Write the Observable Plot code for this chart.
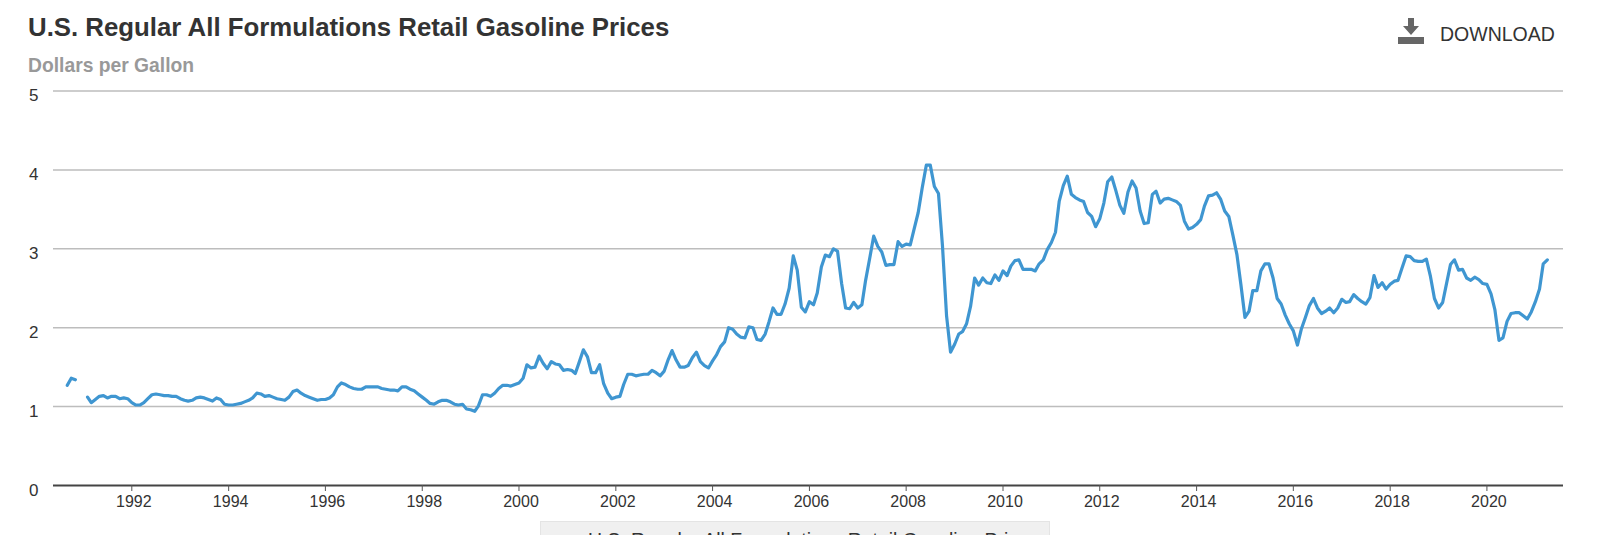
<!DOCTYPE html>
<html>
<head>
<meta charset="utf-8">
<script src="https://cdn.jsdelivr.net/npm/d3@7"></script>
<script src="https://cdn.jsdelivr.net/npm/@observablehq/plot@0.6"></script>
<style>
  html,body{margin:0;padding:0;background:#fff;width:1600px;height:535px;overflow:hidden;font-family:"Liberation Sans",Arial,sans-serif;}
  #wrap{position:relative;width:1600px;height:535px;overflow:hidden;}
  #title{position:absolute;left:28px;top:13px;font-size:25.8px;font-weight:bold;color:#333;line-height:28px;white-space:nowrap;}
  #sub{position:absolute;left:28px;top:55px;font-size:19.3px;font-weight:bold;color:#999;line-height:22px;white-space:nowrap;}
  #dl{position:absolute;left:1440px;top:23px;font-size:19.5px;color:#333;line-height:22px;white-space:nowrap;}
  #icon{position:absolute;left:1397px;top:17px;}
  #chart{position:absolute;left:0;top:80px;}
  #legend{position:absolute;left:540px;top:521px;width:510px;height:40px;background:#f0f0f0;border:1px solid #e4e4e4;box-sizing:border-box;font-size:19.4px;color:#333;padding:7px 0 0 47px;white-space:nowrap;}
</style>
</head>
<body>
<div id="wrap">
  <div id="title">U.S. Regular All Formulations Retail Gasoline Prices</div>
  <div id="sub">Dollars per Gallon</div>
  <svg id="icon" width="28" height="28" viewBox="0 0 28 28"><path d="M11 1h6v8h5l-8 9-8-9h5z M1 20h26v7H1z" fill="#666"/></svg>
  <div id="dl">DOWNLOAD</div>
  <div id="chart"></div>
  <div id="legend">U.S. Regular All Formulations Retail Gasoline Prices</div>
</div>
<script>
const startYear = 1990;
const startMonth = 8; // September, zero-based
const prices = [
  1.27,1.36,1.34,
  null,null,1.12,1.05,1.09,1.13,1.14,1.11,1.13,1.13,1.10,1.11,1.10,
  1.05,1.02,1.02,1.05,1.10,1.15,1.16,1.15,1.14,1.14,1.13,1.13,
  1.10,1.08,1.07,1.08,1.11,1.12,1.11,1.09,1.07,1.11,1.09,1.03,
  1.02,1.02,1.03,1.04,1.06,1.08,1.11,1.17,1.16,1.13,1.14,1.12,
  1.10,1.09,1.08,1.12,1.19,1.21,1.17,1.14,1.12,1.10,1.08,1.09,
  1.09,1.11,1.15,1.25,1.30,1.28,1.25,1.23,1.22,1.22,1.25,1.25,
  1.25,1.25,1.23,1.22,1.21,1.21,1.20,1.25,1.25,1.22,1.20,1.16,
  1.12,1.08,1.04,1.03,1.06,1.08,1.08,1.06,1.03,1.02,1.03,0.97,
  0.96,0.94,1.01,1.15,1.15,1.13,1.17,1.23,1.27,1.27,1.26,1.28,
  1.30,1.36,1.53,1.49,1.50,1.64,1.55,1.48,1.57,1.54,1.53,1.46,
  1.47,1.46,1.42,1.57,1.72,1.63,1.43,1.43,1.53,1.29,1.17,1.10,
  1.12,1.13,1.28,1.41,1.41,1.39,1.40,1.41,1.41,1.46,1.43,1.39,
  1.45,1.60,1.71,1.59,1.50,1.50,1.52,1.62,1.69,1.57,1.52,1.49,
  1.58,1.66,1.76,1.82,2.00,1.98,1.92,1.88,1.87,2.01,2.00,1.85,
  1.84,1.92,2.07,2.25,2.17,2.17,2.30,2.50,2.91,2.73,2.26,2.20,
  2.33,2.29,2.44,2.77,2.92,2.90,3.00,2.97,2.56,2.25,2.24,2.32,
  2.25,2.29,2.60,2.88,3.16,3.03,2.96,2.79,2.80,2.80,3.09,3.03,
  3.06,3.05,3.25,3.46,3.77,4.06,4.06,3.79,3.70,3.04,2.15,1.69,
  1.79,1.92,1.95,2.05,2.27,2.63,2.54,2.63,2.57,2.56,2.67,2.60,
  2.72,2.66,2.78,2.85,2.86,2.74,2.74,2.74,2.72,2.81,2.86,2.99,
  3.08,3.21,3.60,3.80,3.92,3.69,3.65,3.62,3.60,3.46,3.41,3.28,
  3.38,3.58,3.85,3.91,3.74,3.55,3.45,3.72,3.86,3.77,3.48,3.32,
  3.33,3.69,3.73,3.58,3.63,3.64,3.62,3.60,3.55,3.35,3.25,3.27,
  3.31,3.37,3.54,3.67,3.68,3.71,3.63,3.48,3.41,3.18,2.93,2.55,
  2.13,2.21,2.47,2.47,2.72,2.81,2.81,2.63,2.37,2.30,2.16,2.05,
  1.96,1.78,1.98,2.13,2.28,2.37,2.25,2.18,2.21,2.25,2.19,2.25,
  2.36,2.32,2.33,2.42,2.37,2.33,2.30,2.38,2.66,2.51,2.57,2.49,
  2.55,2.59,2.60,2.76,2.91,2.90,2.85,2.84,2.84,2.87,2.65,2.37,
  2.25,2.32,2.55,2.80,2.86,2.73,2.74,2.63,2.60,2.64,2.61,2.56,
  2.55,2.43,2.23,1.84,1.87,2.08,2.18,2.19,2.19,2.15,2.11,2.20,
  2.33,2.49,2.81,2.86
];
const tickYears = [1992,1994,1996,1998,2000,2002,2004,2006,2008,2010,2012,2014,2016,2018,2020];
const gridValues = [1,2,3,4,5];
const yLabels = [0,1,2,3,4,5];

const table = prices.map((p, i) => ({date: new Date(Date.UTC(startYear, startMonth + i, 1)), price: p}));
const tickDates = tickYears.map(y => new Date(Date.UTC(y,0,1)));

const chart = Plot.plot({
  width: 1600,
  height: 455,
  marginLeft: 53,
  marginRight: 37,
  marginTop: 10.5,
  marginBottom: 50,
  style: {fontFamily: '"Liberation Sans", Arial, sans-serif', background: "transparent"},
  x: {type: "utc", domain: [new Date(Date.UTC(1990,4,20)), new Date(Date.UTC(2021,7,1))]},
  y: {domain: [0,5]},
  marks: [
    Plot.ruleY(gridValues, {stroke: "#bdbdbd", strokeWidth: 1.5}),
    Plot.ruleY([0], {stroke: "#444", strokeWidth: 2}),
    Plot.axisX({ticks: tickDates, tickSize: 6, tickFormat: () => null, label: null, stroke: "#555"}),
    Plot.axisX({
      ticks: tickDates, tickFormat: d3.utcFormat("%Y"),
      tickSize: 0, tickPadding: 10, fontSize: 16, label: null, color: "#333", dx: 2
    }),
    Plot.axisY({
      ticks: yLabels, tickFormat: d3.format("d"), tickSize: 0, tickPadding: 15, fontSize: 17, label: null, color: "#333", dy: 5
    }),
    Plot.line(table, {x: "date", y: "price", stroke: "#3f96d1", strokeWidth: 3.2, curve: "linear"})
  ]
});
document.getElementById("chart").appendChild(chart);
</script>
</body>
</html>
